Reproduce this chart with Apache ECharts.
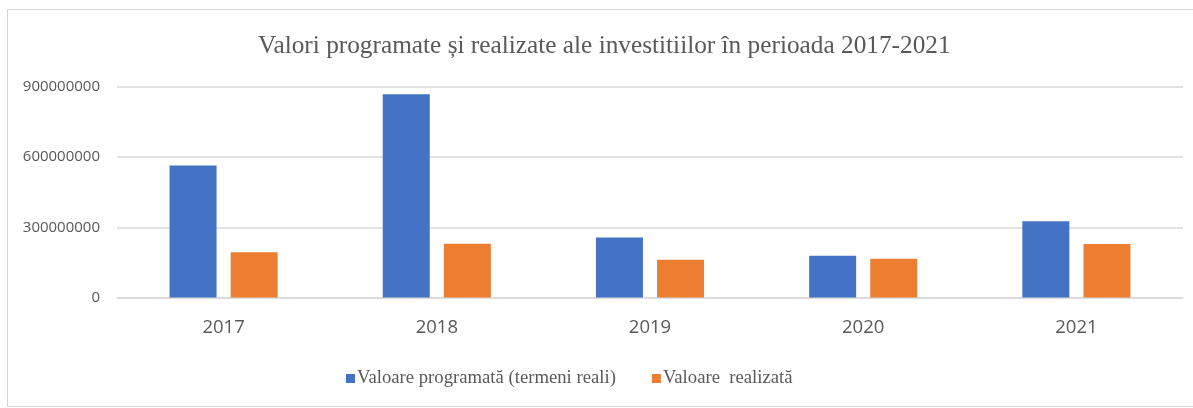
<!DOCTYPE html>
<html>
<head>
<meta charset="utf-8">
<script src="https://cdn.jsdelivr.net/npm/echarts@6/dist/echarts.min.js"></script>
<style>
  html, body { margin: 0; padding: 0; background: #fff; }
  #chart { width: 1193px; height: 408px; }
</style>
</head>
<body>
<div id="chart"></div>
<script>
const years = ['2017', '2018', '2019', '2020', '2021']
const programata = [564000000, 869000000, 257000000, 179000000, 326000000]
const realizata = [193000000, 230000000, 161000000, 166000000, 229000000]
const yTicks = [0, 300000000, 600000000, 900000000]

const grey = '#595959'
const myChart = echarts.init(document.getElementById('chart'))

const option = {
  animation: false,
  graphic: [
    {
      type: 'rect',
      shape: { x: 7.5, y: 9.5, width: 1200, height: 397 },
      style: { fill: 'none', stroke: '#d4d4d4', lineWidth: 1 },
      silent: true,
    },
  ],
  title: {
    text: 'Valori programate și realizate ale investitiilor în perioada 2017-2021',
    left: 253,
    top: 29,
    textStyle: {
      fontFamily: 'Liberation Serif',
      fontWeight: 'normal',
      fontSize: 25.3,
      color: grey,
    },
  },
  legend: {
    left: 341,
    top: 364,
    itemWidth: 9,
    itemHeight: 9,
    itemGap: 36,
    icon: 'rect',
    textStyle: {
      fontFamily: 'Liberation Serif',
      fontSize: 18.7,
      color: grey,
      padding: [0, 0, 0, -3],
    },
    data: ['Valoare programată (termeni reali)', 'Valoare  realizată'],
  },
  grid: { left: 117, right: 10, top: 87, bottom: 110.5, containLabel: false },
  xAxis: {
    type: 'category',
    data: years,
    axisTick: { show: false },
    axisLine: { lineStyle: { color: '#d9d9d9', width: 1.5 } },
    axisLabel: {
      margin: 21,
      fontFamily: 'Open Sans',
      fontSize: 18.5,
      color: grey,
    },
  },
  yAxis: {
    type: 'value',
    min: yTicks[0],
    max: yTicks[yTicks.length - 1],
    interval: yTicks[1] - yTicks[0],
    axisLine: { show: false },
    axisTick: { show: false },
    splitLine: { lineStyle: { color: '#d9d9d9', width: 1.5 } },
    axisLabel: {
      margin: 17,
      fontFamily: 'Open Sans',
      fontSize: 15,
      color: grey,
      formatter: (v) => String(v),
    },
  },
  series: [
    {
      name: 'Valoare programată (termeni reali)',
      type: 'bar',
      data: programata,
      barWidth: 47,
      barGap: '30%',
      itemStyle: { color: '#4472C4' },
    },
    {
      name: 'Valoare  realizată',
      type: 'bar',
      data: realizata,
      barWidth: 47,
      itemStyle: { color: '#ED7D31' },
    },
  ],
}

option && myChart.setOption(option)
</script>
</body>
</html>
